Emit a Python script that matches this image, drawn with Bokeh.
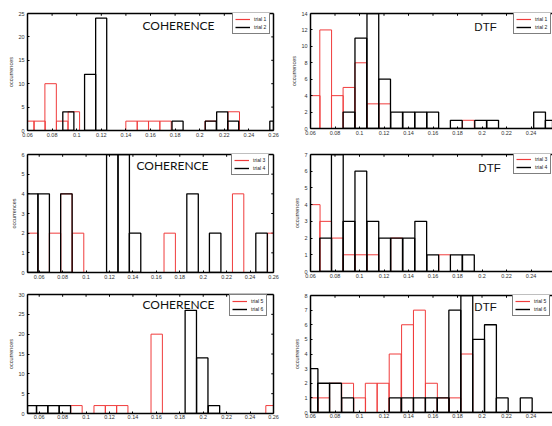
import math
from bokeh.plotting import figure
from bokeh.models import Range1d, LinearAxis, FixedTicker, Legend, LegendItem, Label
from bokeh.layouts import row, column
from bokeh.embed import file_html
from bokeh.resources import INLINE

RED = "#f03c3c"
BLACK = "#000000"
TICK_FONT = "Liberation Sans"

# ---------------- data (bin centres in Hz, counts) ----------------
x_ticks = [0.06, 0.08, 0.1, 0.12, 0.14, 0.16, 0.18, 0.2, 0.22, 0.24, 0.26]
x_tick_labels = ["0.06", "0.08", "0.1", "0.12", "0.14", "0.16", "0.18", "0.2", "0.22", "0.24", "0.26"]

y_ticks_coh1 = [0, 5, 10, 15, 20, 25]
y_ticks_dtf1 = [0, 2, 4, 6, 8, 10, 12, 14]
y_ticks_coh2 = [0, 1, 2, 3, 4, 5, 6]
y_ticks_dtf2 = [0, 1, 2, 3, 4, 5, 6, 7]
y_ticks_coh3 = [0, 5, 10, 15, 20, 25, 30]
y_ticks_dtf3 = [0, 1, 2, 3, 4, 5, 6, 7, 8]

# COHERENCE, trials 1 / 2
coh1_red_x = [0.0608, 0.0698, 0.0788, 0.0882, 0.0977, 0.1446, 0.1538, 0.1630, 0.1722, 0.2090, 0.2277]
coh1_red_n = [2, 2, 10, 2, 4, 2, 2, 2, 2, 2, 4]
coh1_blk_x = [0.0932, 0.1109, 0.1199, 0.1820, 0.2090, 0.2183, 0.2272, 0.2615]
coh1_blk_n = [4, 12, 24, 2, 2, 4, 2, 2]

# DTF, trials 1 / 2
dtf1_red_x = [0.0630, 0.0724, 0.0819, 0.0914, 0.1011, 0.1109, 0.1205, 0.1889]
dtf1_red_n = [4, 12, 4, 5, 8, 3, 3, 1]
dtf1_blk_x = [0.0914, 0.1011, 0.1109, 0.1205, 0.1303, 0.1402, 0.1500, 0.1598, 0.1790, 0.1989, 0.2087, 0.2470, 0.2565]
dtf1_blk_n = [2, 11, 14, 6, 2, 2, 2, 2, 1, 1, 1, 2, 1]

# COHERENCE, trials 3 / 4
coh2_red_x = [0.0540, 0.0735, 0.0832, 0.0932, 0.1714, 0.2298, 0.2598]
coh2_red_n = [2, 2, 4, 2, 2, 4, 2]
coh2_blk_x = [0.0540, 0.0638, 0.0832, 0.1224, 0.1321, 0.1418, 0.1909, 0.2102, 0.2498]
coh2_blk_n = [4, 4, 4, 6, 6, 2, 4, 2, 2]

# DTF, trials 3 / 4
dtf2_red_x = [0.0630, 0.0724, 0.0819, 0.0914, 0.1011, 0.1109, 0.1303, 0.1695]
dtf2_red_n = [4, 3, 2, 1, 1, 1, 2, 1]
dtf2_blk_x = [0.0724, 0.0819, 0.0914, 0.1011, 0.1109, 0.1205, 0.1303, 0.1402, 0.1500, 0.1598, 0.1790, 0.1889]
dtf2_blk_n = [2, 7, 3, 6, 3, 2, 2, 2, 3, 1, 1, 1]

# COHERENCE, trials 5 / 6
coh3_red_x = [0.0918, 0.1116, 0.1213, 0.1309, 0.1603, 0.2583]
coh3_red_n = [2, 2, 2, 2, 20, 2]
coh3_blk_x = [0.0529, 0.0625, 0.0722, 0.0819, 0.1894, 0.1992, 0.2092]
coh3_blk_n = [2, 2, 2, 2, 26, 14, 2]

# DTF, trials 5 / 6
dtf3_red_x = [0.0612, 0.0707, 0.0804, 0.0903, 0.1001, 0.1096, 0.1192, 0.1291, 0.1392, 0.1489, 0.1587, 0.1683, 0.1778, 0.1876]
dtf3_red_n = [1, 1, 2, 2, 1, 2, 2, 4, 6, 7, 2, 1, 1, 4]
dtf3_blk_x = [0.0612, 0.0707, 0.0804, 0.0903, 0.1291, 0.1392, 0.1489, 0.1587, 0.1683, 0.1778, 0.1876, 0.1972, 0.2069, 0.2165, 0.2361]
dtf3_blk_n = [3, 2, 2, 1, 1, 1, 1, 1, 1, 7, 8, 5, 6, 1, 1]

overrides = {t: l for t, l in zip(x_ticks, x_tick_labels)}

# right column frame is cut by the window edge (0.06..0.26 spans 245 px, 242 visible)
RIGHT_X_END = 0.06 + 0.2 * 242.0 / 245.0
NAN = float("nan")


def style_axis(ax):
    ax.axis_line_color = BLACK
    ax.axis_line_width = 1.5
    ax.major_tick_in = 2
    ax.major_tick_out = 0
    ax.major_tick_line_color = BLACK
    ax.minor_tick_line_color = None
    ax.major_label_text_font = TICK_FONT
    ax.major_label_text_font_size = "5.5px"
    ax.major_label_text_color = "#333333"


def frame_line(p, side):
    ax = LinearAxis(ticker=FixedTicker(ticks=[]))
    ax.axis_line_color = BLACK
    ax.axis_line_width = 1.5
    ax.major_tick_line_color = None
    ax.minor_tick_line_color = None
    p.add_layout(ax, side)


def panel(width, height, borders, xr, yticks, red_x, red_n, red_w, blk_x, blk_n, blk_w,
          labels, title, title_font, title_size, title_xy, legend_xy, xlabel_y, right_axis,
          xtick_standoff=2):
    top, right, bottom, left = borders
    p = figure(width=width, height=height, output_backend="svg", toolbar_location=None,
               x_range=Range1d(*xr), y_range=Range1d(yticks[0], yticks[-1]),
               min_border_top=top, min_border_right=right, min_border_bottom=bottom,
               min_border_left=left, outline_line_color=None,
               background_fill_color="white", border_fill_color="white")
    p.grid.visible = False

    xa = p.xaxis[0]
    xa.ticker = FixedTicker(ticks=x_ticks)
    xa.major_label_overrides = overrides
    xa.major_label_standoff = xtick_standoff
    style_axis(xa)

    ya = p.yaxis[0]
    ya.ticker = FixedTicker(ticks=yticks)
    ya.major_label_standoff = 3
    ya.axis_label = "occurrences"
    ya.axis_label_text_font = TICK_FONT
    ya.axis_label_text_font_size = "5.5px"
    ya.axis_label_text_font_style = "normal"
    ya.axis_label_text_color = "#333333"
    ya.axis_label_standoff = 1
    style_axis(ya)

    # box edges (top always, right only where it is inside the window)
    frame_line(p, "above")
    vis_x = [t for t in x_ticks if xr[0] < t < xr[1]]
    p.scatter(x=vis_x, y=[yticks[-1]] * len(vis_x), marker="dash", angle=math.pi / 2,
              size=4.5, line_color=BLACK, line_width=1)
    if right_axis:
        frame_line(p, "right")
        p.scatter(x=[xr[1]] * len(yticks), y=yticks, marker="dash", size=4.5,
                  line_color=BLACK, line_width=1)

    p.vbar(x=red_x, top=red_n, bottom=0, width=red_w, fill_color=None,
           line_color=RED, line_width=1.0)
    p.vbar(x=blk_x, top=blk_n, bottom=0, width=blk_w, fill_color=None,
           line_color=BLACK, line_width=1.3)

    # legend-only line renderers (no visible data)
    l1 = p.line(x=[NAN, NAN], y=[NAN, NAN], line_color=RED, line_width=1.2)
    l2 = p.line(x=[NAN, NAN], y=[NAN, NAN], line_color=BLACK, line_width=1.4)
    leg = Legend(items=[LegendItem(label=labels[0], renderers=[l1]),
                        LegendItem(label=labels[1], renderers=[l2])],
                 location=legend_xy, orientation="vertical",
                 border_line_color=BLACK, border_line_width=1.5,
                 background_fill_color="white", background_fill_alpha=1.0,
                 padding=2, spacing=0, margin=0, glyph_width=15, glyph_height=8,
                 label_height=8, label_width=13, label_standoff=4,
                 label_text_font=TICK_FONT, label_text_font_size="5px",
                 label_text_color="#222222")
    p.add_layout(leg, "center")

    p.add_layout(Label(x=title_xy[0], y=title_xy[1], x_units="screen", y_units="screen",
                       text=title, text_align="center", text_baseline="middle",
                       text_font=title_font, text_font_size=title_size, text_color="#111111"))
    p.add_layout(Label(x=(width - left - right) / 2.0, y=xlabel_y, x_units="screen",
                       y_units="screen", text="fmax [Hz]", text_align="center",
                       text_baseline="middle", text_font=TICK_FONT,
                       text_font_size="5.5px", text_color="#333333"))
    return p


L1 = panel(284, 148, (13, 11, 18, 27), (0.06, 0.26), y_ticks_coh1,
           coh1_red_x, coh1_red_n, 0.0093, coh1_blk_x, coh1_blk_n, 0.0090,
           ("trial 1", "trial 2"), "COHERENCE", "Lato", "12px", (151, 105), (205, 96), -13.5, True)
L2 = panel(284, 140, (6, 11, 16, 27), (0.05, 0.26), y_ticks_coh2,
           coh2_red_x, coh2_red_n, 0.0097, coh2_blk_x, coh2_blk_n, 0.0098,
           ("trial 3", "trial 4"), "COHERENCE", "Lato", "12px", (145, 107), (204, 97), -10.5, True)
L3 = panel(284, 138, (6, 11, 13, 27), (0.05, 0.26), y_ticks_coh3,
           coh3_red_x, coh3_red_n, 0.0097, coh3_blk_x, coh3_blk_n, 0.0097,
           ("trial 5", "trial 6"), "COHERENCE", "Lato", "12px", (151, 109), (202, 97), -9.5, True,
           xtick_standoff=1)

R1 = panel(268, 148, (13, 0, 20, 26), (0.06, RIGHT_X_END), y_ticks_dtf1,
           dtf1_red_x, dtf1_red_n, 0.0096, dtf1_blk_x, dtf1_blk_n, 0.0096,
           ("trial 1", "trial 2"), "DTF", "Liberation Sans", "11.5px", (175, 102), (203, 94), -13.5, False)
R2 = panel(268, 140, (6, 0, 17, 26), (0.06, RIGHT_X_END), y_ticks_dtf2,
           dtf2_red_x, dtf2_red_n, 0.0096, dtf2_blk_x, dtf2_blk_n, 0.0096,
           ("trial 3", "trial 4"), "DTF", "Liberation Sans", "11.5px", (179, 104), (203, 97), -11, False)
R3 = panel(268, 138, (7, 0, 14, 26), (0.06, RIGHT_X_END), y_ticks_dtf3,
           dtf3_red_x, dtf3_red_n, 0.0097, dtf3_blk_x, dtf3_blk_n, 0.0097,
           ("trial 5", "trial 6"), "DTF", "Liberation Sans", "11.5px", (175, 106), (202, 96), -10, False,
           xtick_standoff=1)

layout = row(column(L1, L2, L3), column(R1, R2, R3))

open("out.html", "w").write(file_html(layout, INLINE))
